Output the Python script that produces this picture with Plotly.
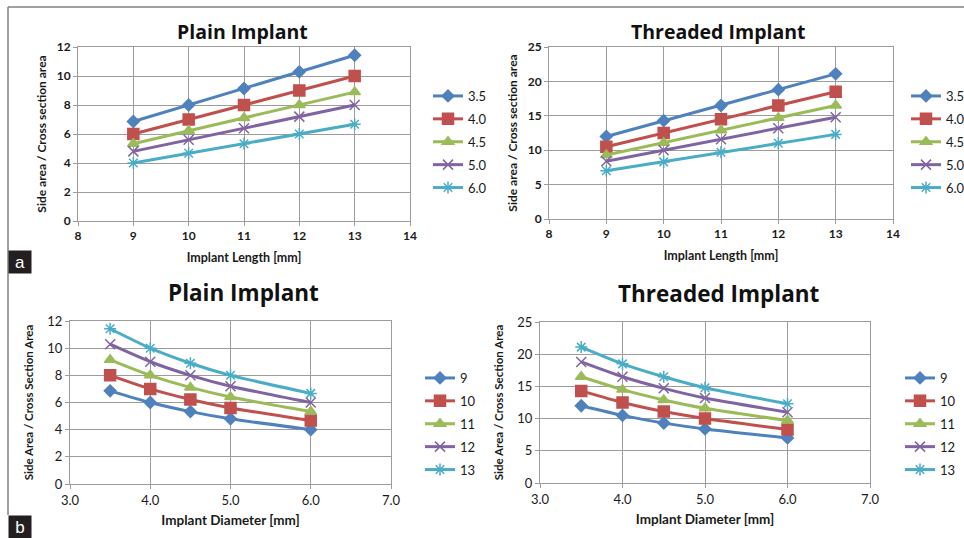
import plotly.graph_objects as go

# ---- data ----
lengths = [9, 10, 11, 12, 13]
diameters = [3.5, 4.0, 4.5, 5.0, 6.0]
diam_labels = ["3.5", "4.0", "4.5", "5.0", "6.0"]
len_labels = ["9", "10", "11", "12", "13"]

# Plain implant: ratio by diameter (rows) over length (cols)
plain_d35 = [6.86, 8.00, 9.14, 10.29, 11.43]
plain_d40 = [6.00, 7.00, 8.00, 9.00, 10.00]
plain_d45 = [5.33, 6.22, 7.11, 8.00, 8.89]
plain_d50 = [4.80, 5.60, 6.40, 7.20, 8.00]
plain_d60 = [4.00, 4.67, 5.33, 6.00, 6.67]

# Threaded implant
thr_d35 = [12.0, 14.3, 16.5, 18.8, 21.1]
thr_d40 = [10.5, 12.5, 14.5, 16.5, 18.5]
thr_d45 = [9.3, 11.1, 12.9, 14.7, 16.5]
thr_d50 = [8.4, 10.0, 11.6, 13.2, 14.8]
thr_d60 = [7.0, 8.3, 9.7, 11.0, 12.3]

plain_rows = [plain_d35, plain_d40, plain_d45, plain_d50, plain_d60]
thr_rows = [thr_d35, thr_d40, thr_d45, thr_d50, thr_d60]

colors = ["#4F81BD", "#C0504D", "#9BBB59", "#8064A2", "#4BACC6"]
symbols = ["diamond", "square", "triangle-up", "x-thin-open", "asterisk-open"]
msizes = [9, 11, 10, 10, 10]

FONT = "Lato"
GRID = "#9c9c9c"

fig = go.Figure()

def add_series(xs, rows, names, xa, ya, legend, smooth):
    for i, (row, nm) in enumerate(zip(rows, names)):
        fig.add_trace(go.Scatter(
            x=xs, y=row, name=nm, mode="lines+markers",
            xaxis=xa, yaxis=ya, legend=legend, legendgroup=legend + nm,
            line=dict(color=colors[i], width=3, shape="spline" if smooth else "linear", smoothing=0.6),
            marker=dict(symbol=symbols[i], size=msizes[i], color=colors[i],
                        line=dict(color=colors[i], width=1.5)),
        ))

# top: vs length
add_series(lengths, plain_rows, diam_labels, "x", "y", "legend", False)
add_series(lengths, thr_rows, diam_labels, "x2", "y2", "legend2", False)
# bottom: vs diameter (transpose)
plain_cols = [[r[j] for r in plain_rows] for j in range(5)]
thr_cols = [[r[j] for r in thr_rows] for j in range(5)]
add_series(diameters, plain_cols, len_labels, "x3", "y3", "legend3", True)
add_series(diameters, thr_cols, len_labels, "x4", "y4", "legend4", True)

def ax(domain, rng, dtick, anchor, title, bold, fmt=None, tsize=12, standoff=8, titlesize=12):
    d = dict(domain=domain, range=rng, dtick=dtick, tick0=rng[0], anchor=anchor,
             showgrid=True, gridcolor=GRID, gridwidth=1,
             showline=True, linecolor=GRID, linewidth=1, mirror=True,
             ticks="outside", ticklen=4, tickcolor=GRID,
             zeroline=False, fixedrange=True, automargin=False,
             tickfont=dict(family=FONT, size=tsize, color="#1a1a1a",
                           weight="bold" if bold else "normal"),
             title=dict(text=title, standoff=standoff,
                        font=dict(family=FONT, size=titlesize, color="#1a1a1a", weight="bold")))
    if fmt:
        d["tickformat"] = fmt
    return d

def py(top, bottom):
    return [1 - bottom / 538, 1 - top / 538]

fig.update_layout(
    xaxis=ax([78/964, 410/964], [8, 14], 1, "y", "Implant Length [mm]", True, standoff=10, titlesize=12.5),
    yaxis=ax(py(47, 221), [0, 12], 2, "x", "Side area / Cross section area", True, standoff=7, titlesize=12),
    xaxis2=ax([549/964, 893/964], [8, 14], 1, "y2", "Implant Length [mm]", True, standoff=10, titlesize=12.5),
    yaxis2=ax(py(47, 219), [0, 25], 5, "x2", "Side area / Cross section area", True, standoff=7, titlesize=12),
    xaxis3=ax([70/964, 391/964], [3, 7], 1, "y3", "Implant Diameter [mm]", False, ".1f", 13, 8, 13.5),
    yaxis3=ax(py(321, 484), [0, 12], 2, "x3", "Side Area / Cross Section Area", False, None, 13, 11, 11.5),
    xaxis4=ax([540/964, 870/964], [3, 7], 1, "y4", "Implant Diameter [mm]", False, ".1f", 13, 8, 13.5),
    yaxis4=ax(py(322, 483), [0, 25], 5, "x4", "Side Area / Cross Section Area", False, None, 13, 11, 11.5),
)

def leg(x, y):
    return dict(x=x, y=y, xanchor="left", yanchor="middle", xref="paper", yref="paper",
                font=dict(family=FONT, size=13, color="#1a1a1a"),
                bgcolor="rgba(0,0,0,0)", itemwidth=30, tracegroupgap=3,
                itemclick=False, itemdoubleclick=False)

fig.update_layout(
    legend=leg(428/964, 1 - 142/538),
    legend2=leg(906/964, 1 - 142/538),
    legend3=leg(420/964, 1 - 424/538),
    legend4=leg(900/964, 1 - 424/538),
)

ann = []
for txt, x, y, sz in [("Plain Implant", 242, 32, 19.5), ("Threaded Implant", 718, 32, 19.5),
                      ("Plain Implant", 243, 292, 22.5), ("Threaded Implant", 719, 293, 22.5)]:
    ann.append(dict(text=txt, x=x/964, y=1 - y/538, xref="paper", yref="paper",
                    xanchor="center", yanchor="middle", showarrow=False,
                    font=dict(family="Open Sans", size=sz, color="#111111", weight="bold")))
for txt, y in [("a", 262), ("b", 527)]:
    ann.append(dict(text=txt, x=8/964, y=1 - y/538, xref="paper", yref="paper",
                    xanchor="left", yanchor="middle", showarrow=False,
                    bgcolor="#231f20", font=dict(family="Liberation Sans", size=17, color="white"),
                    borderpad=1, width=20, height=20))

shapes = [
    dict(type="line", xref="paper", yref="paper", x0=8/964, x1=1, y0=1 - 7/538, y1=1 - 7/538,
         line=dict(color="#808080", width=1.5)),
    dict(type="line", xref="paper", yref="paper", x0=8/964, x1=8/964, y0=1 - 7/538, y1=1 - 515/538,
         line=dict(color="#808080", width=1.5)),
]

fig.update_layout(
    annotations=ann, shapes=shapes,
    width=964, height=538, margin=dict(l=0, r=0, t=0, b=0, autoexpand=False),
    paper_bgcolor="white", plot_bgcolor="white",
    font=dict(family=FONT),
)

fig.write_html("out.html", config={"displayModeBar": False},
               post_script="document.body.style.margin='0';document.body.style.overflow='hidden';")
